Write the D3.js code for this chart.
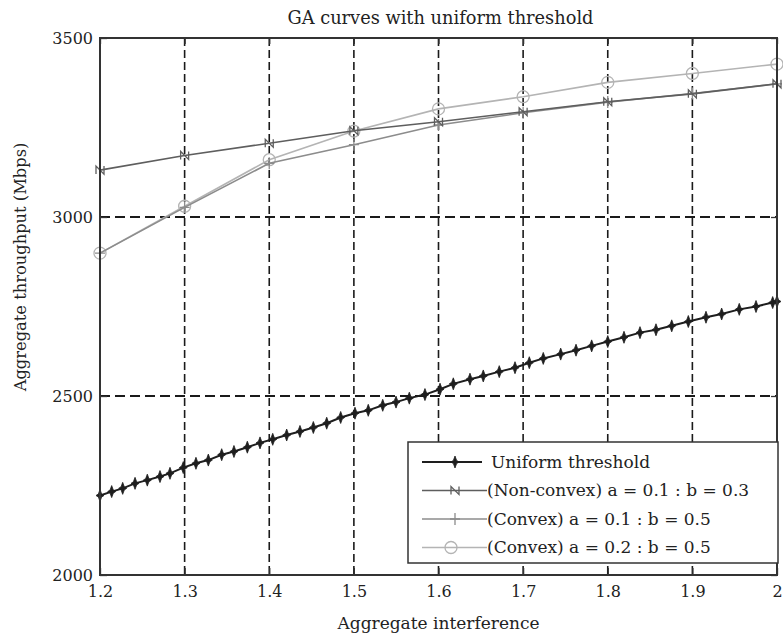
<!DOCTYPE html>
<html>
<head>
<meta charset="utf-8">
<script src="https://cdn.jsdelivr.net/npm/d3@7"></script>
<style>
  body { margin: 0; background: #fff; }
  text { font-family: "DejaVu Serif", serif; fill: #222; }
</style>
</head>
<body>
<div id="chart"></div>
<script>
// GA curves
const xTicks = [1.2, 1.3, 1.4, 1.5, 1.6, 1.7, 1.8, 1.9, 2];
const yTicks = [2000, 2500, 3000, 3500];

const gaX = [1.2, 1.3, 1.4, 1.5, 1.6, 1.7, 1.8, 1.9, 2.0];
const nonConvex = [3131, 3172, 3206, 3241, 3266, 3294, 3322, 3344, 3372];
const convexA01 = [2899, 3027, 3150, 3202, 3257, 3291, 3321, 3345, 3372];
const convexA02 = [2899, 3030, 3160, 3240, 3302, 3336, 3376, 3401, 3427];

const uniformX = [1.2, 1.2138, 1.2268, 1.2414, 1.2559, 1.2709, 1.2827, 1.2984, 1.3134, 1.3280,
  1.3438, 1.3583, 1.3741, 1.3891, 1.4041, 1.4206, 1.4363, 1.4521, 1.4679, 1.4844,
  1.5013, 1.5170, 1.5341, 1.5498, 1.5655, 1.5840, 1.6018, 1.6175, 1.6372, 1.6529,
  1.6718, 1.6904, 1.7073, 1.7238, 1.7444, 1.7625, 1.7810, 1.8000, 1.8192, 1.8381,
  1.8570, 1.8756, 1.8952, 1.9161, 1.9346, 1.9554, 1.9752, 1.9949, 2.0];
const uniformY = [2222, 2233, 2242, 2256, 2265, 2275, 2284, 2300, 2312, 2321,
  2336, 2345, 2357, 2369, 2379, 2391, 2401, 2412, 2424, 2440,
  2452, 2460, 2474, 2483, 2494, 2504, 2519, 2534, 2547, 2556,
  2568, 2579, 2593, 2605, 2617, 2628, 2640, 2652, 2664, 2677,
  2685, 2696, 2708, 2720, 2729, 2742, 2750, 2761, 2764];

const seriesNames = ["Uniform threshold", "(Non-convex) a = 0.1 : b = 0.3",
  "(Convex) a = 0.1 : b = 0.5", "(Convex) a = 0.2 : b = 0.5"];

let margin = {top: 38, right: 6, bottom: 64, left: 100},
    width = 783 - margin.left - margin.right,
    height = 639 - margin.top - margin.bottom;

const svg = d3.select('#chart').append('svg')
    .attr('width', 783).attr('height', 639);
const g = svg.append('g').attr('transform', "translate(" + margin.left + "," + margin.top + ")");

const xScale = d3.scaleLinear().domain([1.2, 2]).range([0, width]);
const yScale = d3.scaleLinear().domain([2000, 3500]).range([height, 0]);

// dashed grid
g.append('g').selectAll('line')
    .data(xTicks.slice(1, -1))
    .enter().append('line')
    .attr('x1', d => xScale(d)).attr('x2', d => xScale(d))
    .attr('y1', 0).attr('y2', height)
    .attr('stroke', '#1a1a1a').attr('stroke-width', 1.6).attr('stroke-dasharray', '8,4');
g.append('g').selectAll('line')
    .data(yTicks.slice(1, -1))
    .enter().append('line')
    .attr('y1', d => yScale(d)).attr('y2', d => yScale(d))
    .attr('x1', 0).attr('x2', width)
    .attr('stroke', '#1a1a1a').attr('stroke-width', 1.8).attr('stroke-dasharray', '10,5');

// symbols
const starPath = "M0,-6L1.6,-1.6L4,0L1.6,1.6L0,6L-1.6,1.6L-4,0L-1.6,-1.6Z";
const nPath = "M-4,4L-4,-4L4,4L4,-4";
const plusPath = "M-5,0H5M0,-6V6";

function drawSeries(xs, ys, color, w, sym) {
    const pts = xs.map((x, i) => [x, ys[i]]);
    const line = d3.line().x(d => xScale(d[0])).y(d => yScale(d[1]));
    g.append('path').datum(pts)
        .attr('d', line).attr('fill', 'none')
        .attr('stroke', color).attr('stroke-width', w);
    const m = g.append('g').selectAll('g').data(pts).enter().append('g')
        .attr('transform', d => "translate(" + xScale(d[0]) + "," + yScale(d[1]) + ")");
    addSymbol(m, sym, color);
}

function addSymbol(sel, sym, color) {
    if (sym === 'star') {
        sel.append('path').attr('d', starPath).attr('fill', color).attr('stroke', color).attr('stroke-width', 0.8);
    } else if (sym === 'n') {
        sel.append('path').attr('d', nPath).attr('fill', 'none').attr('stroke', color).attr('stroke-width', 1.3);
    } else if (sym === 'plus') {
        sel.append('path').attr('d', plusPath).attr('fill', 'none').attr('stroke', color).attr('stroke-width', 1.3);
    } else {
        sel.append('circle').attr('r', 6).attr('fill', 'none').attr('stroke', color).attr('stroke-width', 1.3);
    }
}

const colors = ['#1e1e1e', '#5e5e5e', '#8c8c8c', '#b4b4b4'];
drawSeries(uniformX, uniformY, colors[0], 2, 'star');
drawSeries(gaX, convexA02, colors[3], 1.6, 'circle');
drawSeries(gaX, convexA01, colors[2], 1.6, 'plus');
drawSeries(gaX, nonConvex, colors[1], 1.6, 'n');

// axes with inward ticks
const xAxis = g.append('g').attr('transform', "translate(0," + height + ")")
    .call(d3.axisBottom(xScale).tickValues(xTicks).tickFormat(d => d === 2 ? "2" : d3.format('.1f')(d))
        .tickSizeInner(-7).tickSizeOuter(0).tickPadding(11));
const yAxis = g.append('g')
    .call(d3.axisLeft(yScale).tickValues(yTicks).tickFormat(d3.format('d'))
        .tickSizeInner(-7).tickSizeOuter(0).tickPadding(7));
g.append('g')
    .call(d3.axisTop(xScale).tickValues(xTicks).tickFormat('').tickSizeInner(-6).tickSizeOuter(0));
g.append('g').attr('transform', "translate(" + width + ",0)")
    .call(d3.axisRight(yScale).tickValues(yTicks).tickFormat('').tickSizeInner(-6).tickSizeOuter(0));
g.selectAll('.domain').remove();
g.selectAll('.tick line').attr('stroke', '#333').attr('stroke-width', 1.3);
g.selectAll('.tick text').style('font-family', '"DejaVu Serif", serif').style('font-size', '16px').attr('fill', '#222');

g.append('rect').attr('x', 0).attr('y', 0).attr('width', width).attr('height', height)
    .attr('fill', 'none').attr('stroke', '#333').attr('stroke-width', 2);

// titles
svg.append('text').attr('x', margin.left + width / 2 + 2).attr('y', 24)
    .attr('text-anchor', 'middle').style('font-size', '17.8px').text('GA curves with uniform threshold');
svg.append('text').attr('x', margin.left + width / 2).attr('y', 629)
    .attr('text-anchor', 'middle').style('font-size', '17px').text('Aggregate interference');
svg.append('text').attr('transform', 'rotate(-90)')
    .attr('x', -267).attr('y', 26)
    .attr('text-anchor', 'middle').style('font-size', '16.3px').text('Aggregate throughput (Mbps)');

// legend
const lg = svg.append('g').attr('transform', 'translate(408,442)');
lg.append('rect').attr('width', 370).attr('height', 121)
    .attr('fill', '#fff').attr('stroke', '#333').attr('stroke-width', 1.5);
const legSyms = ['star', 'n', 'plus', 'circle'];
seriesNames.forEach((name, i) => {
    const y = 20 + i * 28.5;
    const x2 = i === 0 ? 74 : 79;
    lg.append('line').attr('x1', 14).attr('x2', x2).attr('y1', y).attr('y2', y)
        .attr('stroke', colors[i]).attr('stroke-width', i === 0 ? 2 : 1.5);
    const s = lg.append('g').attr('transform', "translate(" + (i === 3 ? 43 : 47) + "," + y + ")");
    addSymbol(s, legSyms[i], colors[i]);
    lg.append('text').attr('x', i === 0 ? 83 : 79).attr('y', y).attr('dy', '0.35em')
        .style('font-size', '17px').text(name);
});
</script>
</body>
</html>
